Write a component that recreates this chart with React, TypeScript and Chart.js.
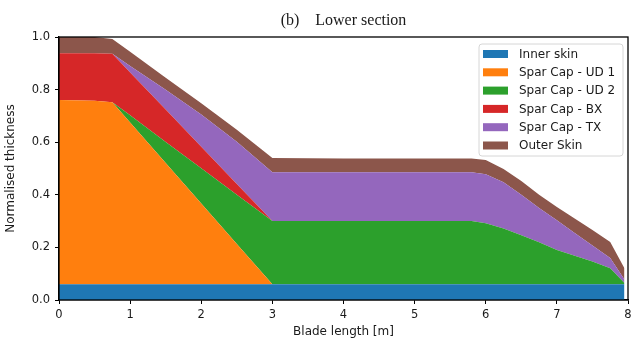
import React, { useEffect, useRef } from "react";
import { Chart, registerables } from "chart.js";

Chart.register(...registerables);

// Blade stations (m)
const bladeX = [0, 0.5, 0.75, 1.0, 1.5, 2.0, 2.5, 3.0, 4.0, 5.0, 5.8, 6.0, 6.25, 6.5, 6.75, 7.0, 7.25, 7.5, 7.75, 7.95];

// Normalised layer thicknesses (stacked)
const innerSkin = [0.06, 0.06, 0.06, 0.06, 0.06, 0.06, 0.06, 0.06, 0.06, 0.06, 0.06, 0.06, 0.06, 0.06, 0.06, 0.06, 0.06, 0.06, 0.06, 0.06];
const sparCapUD1 = [0.7, 0.698, 0.692, 0.615, 0.461, 0.307, 0.153, 0, 0, 0, 0, 0, 0, 0, 0, 0, 0, 0, 0, 0];
const sparCapUD2 = [0, 0, 0, 0.027, 0.08, 0.134, 0.187, 0.24, 0.24, 0.24, 0.24, 0.232, 0.212, 0.186, 0.16, 0.13, 0.108, 0.086, 0.061, 0.005];
const sparCapBX = [0.178, 0.18, 0.184, 0.163, 0.123, 0.082, 0.041, 0, 0, 0, 0, 0, 0, 0, 0, 0, 0, 0, 0, 0];
const sparCapTX = [0, 0, 0, 0.025, 0.075, 0.122, 0.161, 0.186, 0.186, 0.186, 0.186, 0.186, 0.176, 0.154, 0.13, 0.113, 0.087, 0.061, 0.039, 0.013];
const outerSkin = [0.062, 0.062, 0.056, 0.054, 0.046, 0.043, 0.045, 0.054, 0.052, 0.052, 0.052, 0.054, 0.05, 0.052, 0.05, 0.051, 0.055, 0.059, 0.061, 0.043];

const layerNames = ["Inner skin", "Spar Cap - UD 1", "Spar Cap - UD 2", "Spar Cap - BX", "Spar Cap - TX", "Outer Skin"];
const layerValues = [innerSkin, sparCapUD1, sparCapUD2, sparCapBX, sparCapTX, outerSkin];
const layerColors = ["#1f77b4", "#ff7f0e", "#2ca02c", "#d62728", "#9467bd", "#8c564b"];

const titleText = "(b)    Lower section";
const xTitle = "Blade length [m]";
const yTitle = "Normalised thickness";

const TEXT = "#1a1a1a";
const SANS = "'DejaVu Sans', 'Noto Sans', sans-serif";

const framePlugin = {
  id: "frameAndLegend",
  afterDraw(chart: any) {
    const { ctx, chartArea } = chart;
    ctx.save();
    // axes box
    ctx.strokeStyle = "#000";
    ctx.lineWidth = 1.3;
    ctx.strokeRect(chartArea.left, chartArea.top, chartArea.right - chartArea.left, chartArea.bottom - chartArea.top);

    // legend
    const right = chartArea.right - 5;
    const top = chartArea.top + 7;
    const w = 144;
    const h = 112;
    const left = right - w;
    const r = 3;
    ctx.beginPath();
    ctx.moveTo(left + r, top);
    ctx.lineTo(right - r, top);
    ctx.quadraticCurveTo(right, top, right, top + r);
    ctx.lineTo(right, top + h - r);
    ctx.quadraticCurveTo(right, top + h, right - r, top + h);
    ctx.lineTo(left + r, top + h);
    ctx.quadraticCurveTo(left, top + h, left, top + h - r);
    ctx.lineTo(left, top + r);
    ctx.quadraticCurveTo(left, top, left + r, top);
    ctx.closePath();
    ctx.fillStyle = "rgba(255,255,255,0.85)";
    ctx.fill();
    ctx.strokeStyle = "#d6d6d6";
    ctx.lineWidth = 1;
    ctx.stroke();

    ctx.font = `12px ${SANS}`;
    ctx.textBaseline = "middle";
    ctx.textAlign = "left";
    chart.data.datasets.forEach((ds: any, i: number) => {
      const cy = top + 10 + i * 18.3;
      ctx.fillStyle = ds.backgroundColor;
      ctx.fillRect(left + 4, cy - 4, 25, 8);
      ctx.fillStyle = TEXT;
      ctx.fillText(ds.label, left + 40, cy + 0.5);
    });
    ctx.restore();
  },
};

export default function App() {
  const canvasRef = useRef<HTMLCanvasElement | null>(null);

  useEffect(() => {
    if (!canvasRef.current) return;
    const datasets = layerNames.map((label, i) => ({
      label,
      data: bladeX.map((x, j) => ({ x, y: layerValues[i][j] })),
      backgroundColor: layerColors[i],
      borderColor: layerColors[i],
      borderWidth: 0,
      pointRadius: 0,
      pointHoverRadius: 0,
      tension: 0,
      fill: i === 0 ? "origin" : "-1",
    }));

    const chart = new Chart(canvasRef.current, {
      type: "line",
      data: { datasets },
      options: {
        animation: false,
        responsive: false,
        devicePixelRatio: 1,
        layout: { padding: { left: 0, right: 12, top: 0, bottom: 0 } },
        plugins: {
          legend: { display: false },
          tooltip: { enabled: false },
          title: {
            display: true,
            text: titleText,
            fullSize: false,
            color: TEXT,
            font: { family: "'Liberation Serif', 'Times New Roman', serif", size: 16, weight: "normal" },
            padding: { top: 11, bottom: 6.8 },
          },
        },
        scales: {
          x: {
            type: "linear",
            min: 0,
            max: 8,
            afterFit: (s: any) => {
              s.height = 55;
            },
            ticks: { stepSize: 1, color: TEXT, font: { family: SANS, size: 11.5 }, padding: 4, maxRotation: 0 },
            grid: { drawOnChartArea: false, drawTicks: true, tickLength: 4, color: "#000", lineWidth: 1 },
            border: { display: true, color: "#000", width: 1.3 },
            title: { display: true, text: xTitle, color: TEXT, font: { family: SANS, size: 12 }, padding: { top: 4, bottom: 16 } },
          },
          y: {
            stacked: true,
            min: 0,
            max: 1,
            afterFit: (s: any) => {
              s.width = 59;
            },
            ticks: {
              stepSize: 0.2,
              color: TEXT,
              font: { family: SANS, size: 11.5 },
              padding: 5,
              callback: (v: any) => Number(v).toFixed(1),
            },
            grid: { drawOnChartArea: false, drawTicks: true, tickLength: 4, color: "#000", lineWidth: 1 },
            border: { display: true, color: "#000", width: 1.3 },
            title: { display: true, text: yTitle, color: TEXT, font: { family: SANS, size: 12 }, padding: { top: 4, bottom: 4 } },
          },
        },
      },
      plugins: [framePlugin],
    } as any);

    return () => chart.destroy();
  }, []);

  return (
    <div style={{ position: "absolute", left: 0, top: 0, width: 640, height: 355, background: "#fff" }}>
      <canvas ref={canvasRef} width={640} height={355} style={{ display: "block", width: 640, height: 355 }} />
    </div>
  );
}
